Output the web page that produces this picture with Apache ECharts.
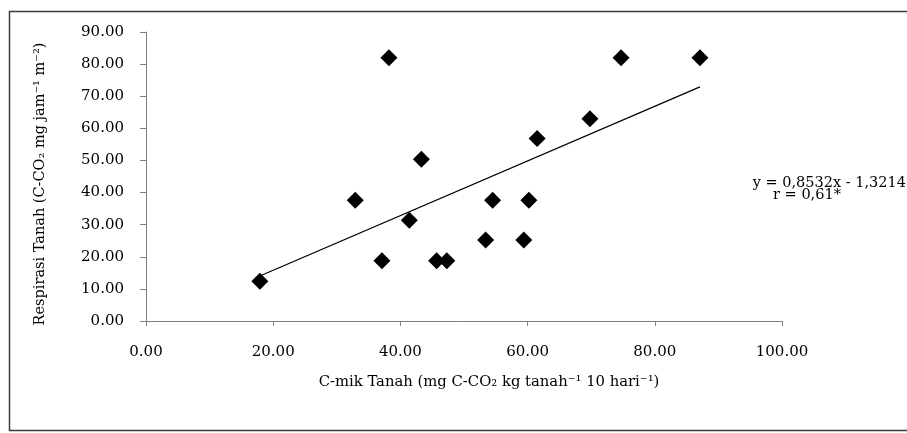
<!DOCTYPE html>
<html lang="en">
  <head>
    <meta charset="UTF-8" />
    <title>Respirasi vs C-mik</title>
    <script src="https://cdn.jsdelivr.net/npm/echarts@6/dist/echarts.min.js"></script>
  </head>
  <style>
    html,
    body {
      margin: 0;
      padding: 0;
      background: #fff;
    }
    #echart {
      width: 907px;
      height: 433px;
    }
  </style>
  <body>
    <div id="echart"></div>
  </body>
  <script>
    // nilai
    const cmik = [17.9, 32.9, 37.1, 38.2, 41.4, 43.3, 45.7, 47.3, 53.4, 54.5, 59.4, 60.2, 61.5, 69.8, 74.7, 87.1];
    const respirasi = [12.4, 37.6, 18.8, 82.0, 31.4, 50.4, 18.8, 18.8, 25.2, 37.6, 25.2, 37.6, 56.8, 63.0, 82.0, 82.0];
    // ujung garis trend
    const trendX = [17.9, 87.1];
    const trendY = [14.0, 72.9];
    const yTicks = [0, 10, 20, 30, 40, 50, 60, 70, 80, 90];
    const xTicks = [0, 20, 40, 60, 80, 100];

    const font = "DejaVu Serif";
    const chart = echarts.init(document.getElementById("echart"));

    const option = {
      animation: false,
      textStyle: { fontFamily: font },
      grid: {
        left: 146,
        top: 32,
        right: 125,
        bottom: 112,
      },
      xAxis: {
        type: "value",
        min: xTicks[0],
        max: xTicks[xTicks.length - 1],
        interval: 20,
        name: "C-mik Tanah (mg C-CO₂ kg tanah⁻¹ 10 hari⁻¹)",
        nameLocation: "middle",
        nameGap: 54,
        nameTextStyle: { color: "#000", fontSize: 14.8, fontFamily: font, padding: [0, 0, 0, 50] },
        axisLine: { lineStyle: { color: "#808080", width: 1 } },
        axisTick: { show: true, length: 5, lineStyle: { color: "#808080" } },
        axisLabel: {
          color: "#000",
          fontSize: 15,
          margin: 24,
          fontFamily: font,
          formatter: (v) => v.toFixed(2),
        },
        splitLine: { show: false },
      },
      yAxis: {
        type: "value",
        min: yTicks[0],
        max: yTicks[yTicks.length - 1],
        interval: 10,
        name: "Respirasi Tanah (C-CO₂ mg jam⁻¹ m⁻²)",
        nameLocation: "middle",
        nameGap: 98,
        nameTextStyle: { color: "#000", fontSize: 14.5, fontFamily: font, padding: [0, 15, 0, 0] },
        axisLine: { show: true, lineStyle: { color: "#808080", width: 1 } },
        axisTick: { show: true, length: 6, lineStyle: { color: "#808080" } },
        axisLabel: {
          color: "#000",
          fontSize: 15,
          margin: 22,
          fontFamily: font,
          formatter: (v) => v.toFixed(2),
        },
        splitLine: { show: false },
      },
      series: [
        {
          type: "scatter",
          data: cmik.map((x, i) => [x, respirasi[i]]),
          symbol: "diamond",
          symbolSize: 17,
          itemStyle: { color: "#000", opacity: 1 },
          z: 3,
        },
        {
          type: "line",
          data: trendX.map((x, i) => [x, trendY[i]]),
          showSymbol: false,
          lineStyle: { color: "#000", width: 1.2 },
          z: 2,
        },
      ],
      graphic: [
        {
          type: "rect",
          shape: { x: 9.5, y: 11.5, width: 1000, height: 419 },
          style: { fill: "none", stroke: "#3c3c3c", lineWidth: 1.5 },
          silent: true,
        },
        {
          type: "text",
          x: 906,
          y: 183,
          style: {
            text: "y = 0,8532x - 1,3214",
            align: "right",
            verticalAlign: "middle",
            font: "14.5px DejaVu Serif",
            fill: "#000",
          },
        },
        {
          type: "text",
          x: 807,
          y: 195,
          style: {
            text: "r = 0,61*",
            align: "center",
            verticalAlign: "middle",
            font: "14.5px DejaVu Serif",
            fill: "#000",
          },
        },
      ],
    };
    chart.setOption(option);
  </script>
</html>
